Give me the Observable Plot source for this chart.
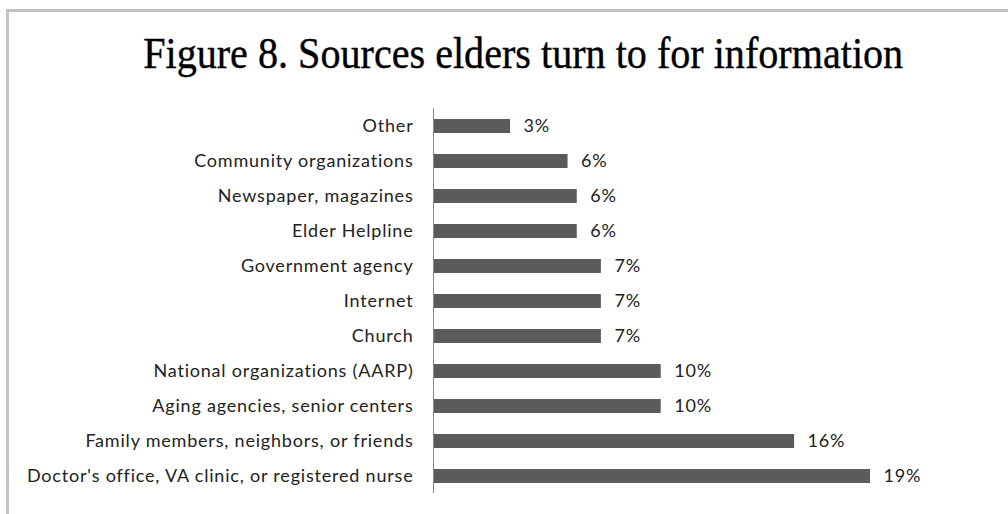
<!DOCTYPE html>
<html>
<head>
<meta charset="utf-8">
<script src="https://cdn.jsdelivr.net/npm/d3@7"></script>
<script src="https://cdn.jsdelivr.net/npm/@observablehq/plot@0.6"></script>
<style>
  html, body { margin: 0; padding: 0; background: #fff; width: 1008px; height: 514px; overflow: hidden; }
  #frame { position: absolute; left: 6px; top: 9px; width: 1100px; height: 600px;
           border-top: 3px solid #c3c3c3; border-left: 3px solid #c3c3c3; }
  #title { position: absolute; left: 0; top: 27px; width: 1046px; text-align: center;
           font-family: "Liberation Serif", serif; font-size: 45px; color: #000; white-space: nowrap;
           -webkit-text-stroke: 0.4px #000; }
  #title span { display: inline-block; transform-origin: center; }
  #chart { position: absolute; left: 0; top: 0; }
</style>
</head>
<body>
<div id="frame"></div>
<div id="title"><span id="tspan">Figure 8. Sources elders turn to for information</span></div>
<div id="chart"></div>
<script>
const categories = [
  "Other",
  "Community organizations",
  "Newspaper, magazines",
  "Elder Helpline",
  "Government agency",
  "Internet",
  "Church",
  "National organizations (AARP)",
  "Aging agencies, senior centers",
  "Family members, neighbors, or friends",
  "Doctor's office, VA clinic, or registered nurse"
];
const values = [3.35, 5.85, 6.25, 6.25, 7.3, 7.3, 7.3, 9.9, 9.9, 15.7, 19.0];
const valueLabels = ["3%", "6%", "6%", "6%", "7%", "7%", "7%", "10%", "10%", "16%", "19%"];

const data = categories.map((c, i) => ({category: c, value: values[i], label: valueLabels[i]}));

const chart = Plot.plot({
  width: 1008,
  height: 514,
  marginTop: 108,
  marginBottom: 21,
  marginLeft: 433,
  marginRight: 40,
  style: {fontFamily: "Lato, sans-serif", fontSize: "18px", color: "#222", background: "transparent"},
  x: {domain: [0, 20], range: [433, 893], axis: null},
  y: {domain: categories, range: [108, 493], paddingInner: 0.6, paddingOuter: 0.3, label: null},
  marks: [
    Plot.barX(data, {y: "category", x: "value", fill: "#5b5b5b"}),
    Plot.text(data, {y: "category", x: "value", text: "label", textAnchor: "start", dx: 13, fontSize: 18, fill: "#222"}),
    Plot.axisY({tickSize: 0, tickPadding: 20, fontSize: 18, label: null, fill: "#222"}),
    Plot.ruleX([0], {stroke: "#8a8a8a", strokeWidth: 1})
  ]
});
chart.style.letterSpacing = "0.8px";
document.getElementById("chart").appendChild(chart);

const ts = document.getElementById("tspan");
const w = ts.getBoundingClientRect().width;
ts.style.transform = `scaleX(${760 / w})`;
</script>
</body>
</html>
